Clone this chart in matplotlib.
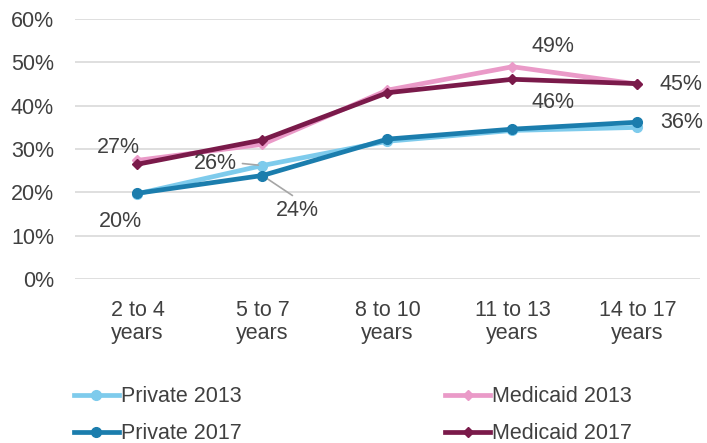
import matplotlib
matplotlib.use("Agg")
import matplotlib.pyplot as plt
from matplotlib.ticker import PercentFormatter

plt.rcParams['font.family'] = ['Liberation Sans', 'DejaVu Sans']

categories = ["2 to 4\nyears", "5 to 7\nyears", "8 to 10\nyears", "11 to 13\nyears", "14 to 17\nyears"]
private_2013 = [19.7, 26.2, 31.8, 34.3, 35.0]
private_2017 = [19.8, 23.9, 32.3, 34.6, 36.2]
medicaid_2013 = [27.4, 31.1, 43.6, 49.0, 45.0]
medicaid_2017 = [26.5, 32.1, 43.0, 46.1, 45.1]

c_p13 = "#7ECBEC"
c_p17 = "#1B7DAD"
c_m13 = "#EA9AC8"
c_m17 = "#7A1A4A"
txt = "#404040"
fs = 15.5

fig = plt.figure(figsize=(7.07, 4.43), dpi=100)
ax = fig.add_axes([0.106, 0.370, 0.884, 0.587])

x = list(range(len(categories)))
l1, = ax.plot(x, private_2013, color=c_p13, lw=3.4, marker='o', ms=7, label="Private 2013", zorder=3)
l3, = ax.plot(x, medicaid_2013, color=c_m13, lw=3.4, marker='D', ms=5, label="Medicaid 2013", zorder=3)
l2, = ax.plot(x, private_2017, color=c_p17, lw=3.4, marker='o', ms=7, label="Private 2017", zorder=4)
l4, = ax.plot(x, medicaid_2017, color=c_m17, lw=3.4, marker='D', ms=5, label="Medicaid 2017", zorder=4)

ax.set_xlim(-0.5, 4.5)
ax.set_ylim(0, 60)
ax.set_yticks(range(0, 61, 10))
ax.yaxis.set_major_formatter(PercentFormatter(decimals=0))
ax.set_xticks(x)
ax.set_xticklabels(categories, linespacing=1.15)
ax.grid(axis='y', color="#D9D9D9", lw=1.2)
ax.set_axisbelow(True)
for s in ax.spines.values():
    s.set_visible(False)
ax.tick_params(axis='both', length=0, colors=txt, labelsize=fs)
ax.tick_params(axis='y', pad=15)
ax.tick_params(axis='x', pad=15)

def lab(text, xi, yv, dx, dy):
    ax.annotate(text, (xi, yv), xytext=(dx, dy), textcoords='offset pixels',
                ha='center', va='center', fontsize=fs, color=txt, zorder=6)

lab("27%", 0, medicaid_2013[0], -19, 13)
lab("20%", 0, private_2017[0], -17, -28)
lab("26%", 1, private_2013[1], -47, 2)
lab("24%", 1, private_2017[1], 35, -35)
lab("49%", 3, medicaid_2013[3], 41, 20)
lab("46%", 3, medicaid_2017[3], 41, -23)
lab("45%", 4, medicaid_2017[4], 44, -1)
lab("36%", 4, private_2017[4], 44, 0)

# leader lines
ax.annotate("", (1, private_2013[1]), xytext=(-20, 2), textcoords='offset pixels',
            arrowprops=dict(arrowstyle='-', color="#A6A6A6", lw=1.2, shrinkA=0, shrinkB=3))
ax.annotate("", (1, private_2017[1]), xytext=(30, -20), textcoords='offset pixels',
            arrowprops=dict(arrowstyle='-', color="#A6A6A6", lw=1.2, shrinkA=0, shrinkB=3))

leg = fig.legend(handles=[l1, l2, l3, l4], loc='upper left', bbox_to_anchor=(0.104, 0.128),
                 ncol=2, frameon=False, fontsize=fs, labelcolor=txt, handlelength=2.1,
                 handletextpad=0.1, columnspacing=9.45, labelspacing=0.75,
                 borderaxespad=0, borderpad=0)
fig.savefig("out.png", dpi=100)
